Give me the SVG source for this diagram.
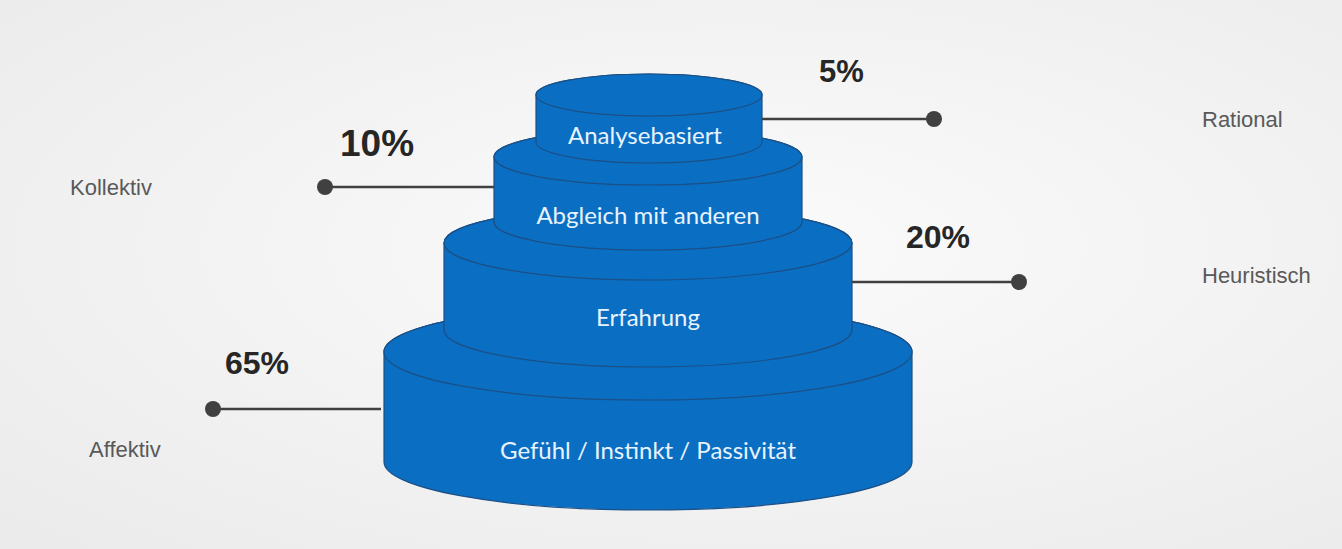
<svg xmlns="http://www.w3.org/2000/svg" width="1342" height="549" viewBox="0 0 1342 549">
  <defs>
    <radialGradient id="bg" cx="0.55" cy="0.45" r="0.75">
      <stop offset="0" stop-color="#fbfbfb"/>
      <stop offset="1" stop-color="#ebebeb"/>
    </radialGradient>
  </defs>
  <style>
    .tier { fill: #0a6fc2; stroke: #1b4f86; stroke-width: 1.2; }
    .tl { font-family: Lato, "Open Sans", sans-serif; font-size: 24px; fill: #e8f3ff; text-anchor: middle; }
    .side { font-family: "Liberation Sans", Arial, sans-serif; font-size: 22px; fill: #595959; }
    .pct { font-family: "Liberation Sans", Arial, sans-serif; font-weight: bold; fill: #262626; }
    .conn line { stroke: #404040; stroke-width: 2.5; }
    .conn circle { fill: #404040; }
  </style>
  <rect width="1342" height="549" fill="url(#bg)"/>

  <g id="tier4">
    <path class="tier" d="M384,352 L384,462 A264,48 0 0 0 912,462 L912,352 A264,48 0 0 0 384,352 Z"/>
    <ellipse class="tier" cx="648" cy="352" rx="264" ry="48"/>
    <text class="tl" x="648" y="459">Gefühl / Instinkt / Passivität</text>
  </g>
  <g id="tier3">
    <path class="tier" d="M444,243 L444,330 A204,37 0 0 0 852,330 L852,243 A204,37 0 0 0 444,243 Z"/>
    <ellipse class="tier" cx="648" cy="243" rx="204" ry="37"/>
    <text class="tl" x="648" y="326">Erfahrung</text>
  </g>
  <g id="tier2">
    <path class="tier" d="M494,157 L494,222 A154,28 0 0 0 802,222 L802,157 A154,28 0 0 0 494,157 Z"/>
    <ellipse class="tier" cx="648" cy="157" rx="154" ry="28"/>
    <text class="tl" x="648" y="224">Abgleich mit anderen</text>
  </g>
  <g id="tier1">
    <path class="tier" d="M536,95 L536,142 A113,21 0 0 0 762,142 L762,95 A113,21 0 0 0 536,95 Z"/>
    <ellipse class="tier" cx="649" cy="95" rx="113" ry="21"/>
    <text class="tl" x="645" y="144">Analysebasiert</text>
  </g>

  <g id="connectors" class="conn">
    <line x1="762" y1="119" x2="934" y2="119"/>
    <circle cx="934" cy="119" r="8"/>
    <line x1="325" y1="187" x2="494" y2="187"/>
    <circle cx="325" cy="187" r="8"/>
    <line x1="852" y1="282" x2="1019" y2="282"/>
    <circle cx="1019" cy="282" r="8"/>
    <line x1="213" y1="409" x2="381" y2="409"/>
    <circle cx="213" cy="409" r="8"/>
  </g>

  <g id="labels">
    <text class="pct" x="819" y="82" font-size="31">5%</text>
    <text class="pct" x="340" y="156" font-size="37">10%</text>
    <text class="pct" x="906" y="248" font-size="32">20%</text>
    <text class="pct" x="225" y="374" font-size="32">65%</text>
    <text class="side" x="1202" y="127">Rational</text>
    <text class="side" x="70" y="195">Kollektiv</text>
    <text class="side" x="1202" y="283" font-size="19">Heuristisch</text>
    <text class="side" x="89" y="457">Affektiv</text>
  </g>
</svg>
